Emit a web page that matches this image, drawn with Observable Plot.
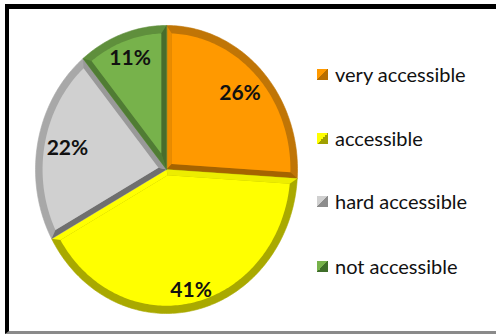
<!DOCTYPE html>
<html>
<head>
<meta charset="utf-8">
<script src="https://cdn.jsdelivr.net/npm/d3@7"></script>
<script src="https://cdn.jsdelivr.net/npm/@observablehq/plot@0.6"></script>
<style>
  html, body { margin: 0; padding: 0; background: #fff; }
  #wrap { position: relative; width: 496px; height: 334px; overflow: hidden; font-family: Lato, "Open Sans", sans-serif; }
  #frame { position: absolute; left: 5px; top: 4px; width: 600px; height: 322px;
           border-top: 5px solid #000; border-left: 4px solid #000; border-bottom: 3px solid #8a8a8a; }
  #chart { position: absolute; left: 0; top: 0; }
  #legend { position: absolute; left: 317px; top: 0; }
  .item { position: absolute; left: 0; display: flex; align-items: center; white-space: nowrap;
          font-size: 20px; color: #111; transform: translateY(-50%); }
  .sw { width: 11px; height: 11px; margin-right: 7px; }
</style>
</head>
<body>
<div id="wrap">
  <div id="frame"></div>
  <div id="chart"></div>
  <div id="legend"></div>
</div>
<script>
// ---- data ----
const categories = ["very accessible", "accessible", "hard accessible", "not accessible"];
const values = [26, 41, 22, 11];
const labels = ["26%", "41%", "22%", "11%"];

// ---- styles ----
const mainColors  = ["#ff9900", "#ffff00", "#d0d0d0", "#77b24b"];
const rimColors   = ["#c07506", "#a9a900", "#a8a8a8", "#5f8f3c"];
const startEdge   = ["#ea8c00", "#eded00", "#6f6f6f", "#507c34"];
const endEdge     = ["#a56300", "#ffff00", "#999999", "#476d2d"];
const legendDark  = ["#b86e00", "#a0a000", "#8c8c8c", "#3f6e2a"];
const labelRadius = [0.77, 0.86, 0.77, 0.82];
const legendRowY  = [74, 138, 201, 266];

// ---- geometry ----
const total = d3.sum(values);
const P = (r, a) => ({x: r * Math.sin(a), y: r * Math.cos(a)});
const arcPts = (r, a0, a1) => {
  const n = Math.max(2, Math.ceil((a1 - a0) / (Math.PI / 180)));
  return d3.range(n + 1).map(i => P(r, a0 + (a1 - a0) * i / n));
};
const ri = 0.946, d = 0.04;
let acc = 0;
const slices = values.map((v, i) => {
  const a0 = acc / total * 2 * Math.PI;
  acc += v;
  const a1 = acc / total * 2 * Math.PI;
  const half = (a1 - a0) / 2;
  const apex = P(d / Math.sin(half), a0 + half);
  const da = Math.asin(d / ri);
  const outer = [{x: 0, y: 0}, ...arcPts(1, a0, a1)];
  const inner = [apex, ...arcPts(ri, a0 + da, a1 - da)];
  const band0 = [{x: 0, y: 0}, P(1, a0), P(ri, a0 + da), apex];
  const band1 = [{x: 0, y: 0}, apex, P(ri, a1 - da), P(1, a1)];
  const lab = P(labelRadius[i], a0 + half);
  return {i, outer, inner, band0, band1, lab};
});

const marks = [];
for (const s of slices) {
  marks.push(Plot.line(s.outer, {x: "x", y: "y", fill: rimColors[s.i], stroke: rimColors[s.i], strokeWidth: 0.6, curve: "linear-closed"}));
  marks.push(Plot.line(s.band0, {x: "x", y: "y", fill: startEdge[s.i], stroke: "none", curve: "linear-closed"}));
  marks.push(Plot.line(s.band1, {x: "x", y: "y", fill: endEdge[s.i], stroke: "none", curve: "linear-closed"}));
  marks.push(Plot.line(s.inner, {x: "x", y: "y", fill: mainColors[s.i], stroke: "none", curve: "linear-closed"}));
}
marks.push(Plot.text(slices.map(s => ({x: s.lab.x, y: s.lab.y, t: labels[s.i]})), {
  x: "x", y: "y", text: "t", fontSize: 21, fontWeight: "bold", fill: "#111",
  fontFamily: "Lato, 'Open Sans', sans-serif"
}));

const plot = Plot.plot({
  width: 496, height: 334, margin: 0,
  x: {domain: [-1, 1], range: [35, 297], axis: null},
  y: {domain: [-1, 1], range: [313, 25], axis: null},
  style: {background: "transparent", overflow: "visible"},
  marks
});
document.getElementById("chart").appendChild(plot);

// ---- legend ----
const legend = document.getElementById("legend");
categories.forEach((c, i) => {
  const it = document.createElement("div");
  it.className = "item";
  it.style.top = legendRowY[i] + "px";
  const sw = document.createElement("div");
  sw.className = "sw";
  sw.style.background = `linear-gradient(135deg, ${mainColors[i]} 50%, ${legendDark[i]} 50%)`;
  const tx = document.createElement("span");
  tx.textContent = c;
  it.appendChild(sw); it.appendChild(tx);
  legend.appendChild(it);
});
</script>
</body>
</html>
